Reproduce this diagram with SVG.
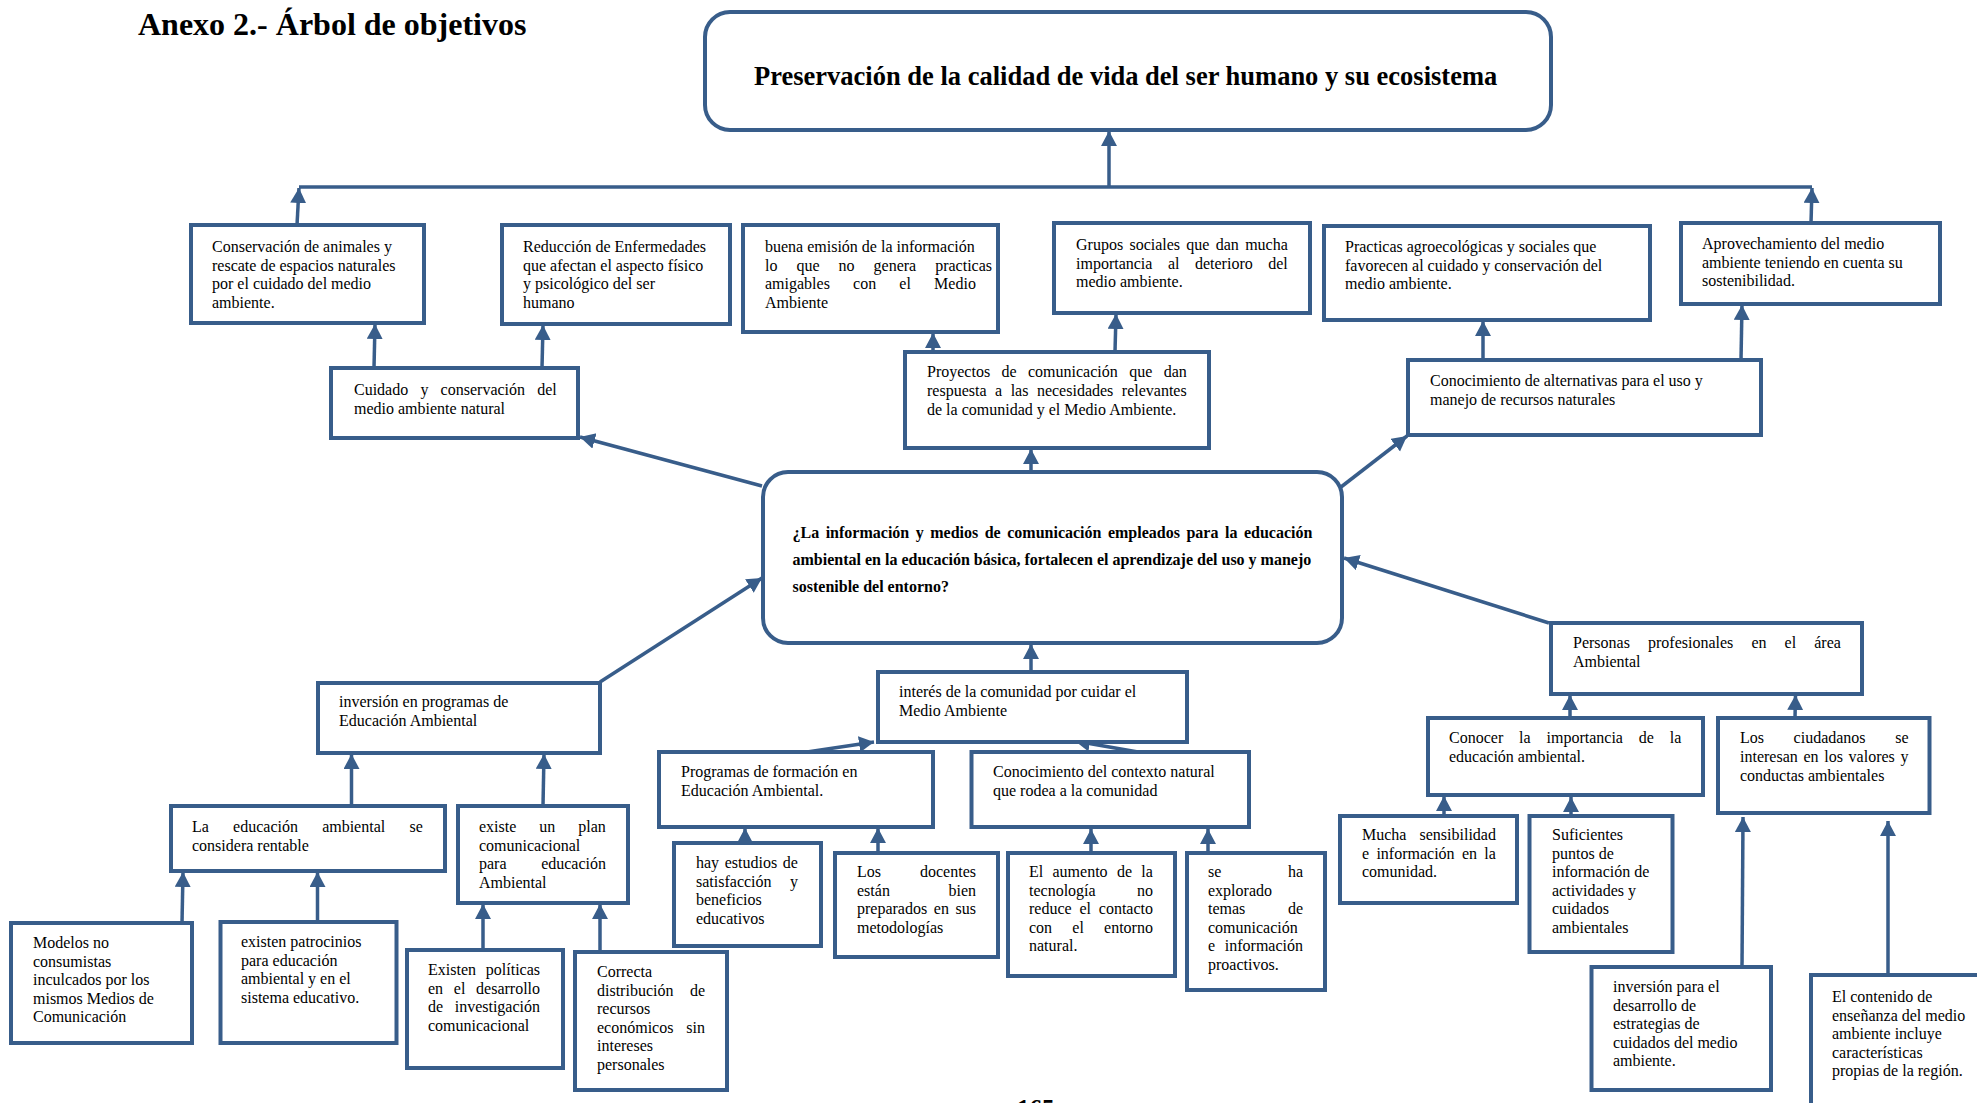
<svg xmlns="http://www.w3.org/2000/svg" width="1977" height="1103" viewBox="0 0 1977 1103">
<style>
.b{fill:#fff;stroke:#385D8A;stroke-width:4}
.c{stroke:#385D8A;stroke-width:3.5;fill:none;marker-end:url(#ah)}
.l{stroke:#385D8A;stroke-width:3.5;fill:none}
.t{font-family:"Liberation Serif","Times New Roman",serif;font-size:16px;fill:#000}
.tb{font-family:"Liberation Serif","Times New Roman",serif;font-size:16px;font-weight:bold;fill:#000}
</style>
<defs>
<marker id="ah" markerUnits="userSpaceOnUse" markerWidth="18" markerHeight="18" refX="15" refY="8" orient="auto"><path d="M0,0 L15,8 L0,16 z" fill="#385D8A"/></marker>
</defs>
<rect width="1977" height="1103" fill="#fff"/>
<text x="138" y="35" style="font-family:'Liberation Serif','Times New Roman',serif;font-size:32px;font-weight:bold">Anexo 2.- Árbol de objetivos</text>
<text x="1017" y="1117" style="font-family:'Liberation Serif','Times New Roman',serif;font-size:25px;font-weight:bold">165</text>

<g id="connectors">
<line class="l" x1="299" y1="187" x2="1812" y2="187"/>
<line class="c" x1="297" y1="225" x2="299" y2="188"/>
<line class="c" x1="1109" y1="187" x2="1109" y2="131"/>
<line class="c" x1="1811" y1="223" x2="1812" y2="188"/>
<line class="c" x1="374" y1="368" x2="375" y2="324"/>
<line class="c" x1="542" y1="368" x2="543" y2="325"/>
<line class="c" x1="933" y1="352" x2="933" y2="333"/>
<line class="c" x1="1115" y1="352" x2="1116" y2="314"/>
<line class="c" x1="1031" y1="472" x2="1031" y2="449"/>
<line class="c" x1="762" y1="486" x2="580" y2="437"/>
<line class="c" x1="1341" y1="487" x2="1407" y2="436"/>
<line class="c" x1="1483" y1="360" x2="1483" y2="321"/>
<line class="c" x1="1741" y1="360" x2="1742" y2="305"/>
<line class="c" x1="600" y1="682" x2="762" y2="578"/>
<line class="c" x1="1549" y1="623" x2="1344" y2="558"/>
<line class="c" x1="1031" y1="672" x2="1031" y2="644"/>
<line class="c" x1="807" y1="752" x2="874" y2="742"/>
<line class="c" x1="1138" y1="752" x2="1075" y2="741"/>
<line class="c" x1="351.5" y1="806" x2="351.5" y2="754"/>
<line class="c" x1="543" y1="806" x2="544" y2="754"/>
<line class="c" x1="182" y1="923" x2="183" y2="872"/>
<line class="c" x1="317.5" y1="922" x2="317.5" y2="872"/>
<line class="c" x1="483" y1="950" x2="483" y2="904"/>
<line class="c" x1="600" y1="952" x2="600" y2="904"/>
<line class="c" x1="745" y1="843" x2="745" y2="828"/>
<line class="c" x1="878" y1="853" x2="878" y2="828"/>
<line class="c" x1="1091" y1="853" x2="1091" y2="829"/>
<line class="c" x1="1208" y1="853" x2="1208" y2="829"/>
<line class="c" x1="1570" y1="718" x2="1570" y2="695"/>
<line class="c" x1="1795" y1="718" x2="1795.5" y2="695"/>
<line class="c" x1="1444" y1="816" x2="1444" y2="796"/>
<line class="c" x1="1571" y1="818" x2="1571" y2="797"/>
<line class="c" x1="1742" y1="967" x2="1743" y2="817"/>
<line class="c" x1="1888" y1="975" x2="1888" y2="821"/>
</g>

<g id="n-top"><rect class="b" x="705" y="12" width="846" height="118" rx="25"/>
<text x="754" y="85" style="font-family:'Liberation Serif','Times New Roman',serif;font-size:26.5px;font-weight:bold">Preservación de la calidad de vida del ser humano y su ecosistema</text></g>

<g id="n-conservacion"><rect class="b" x="191" y="225" width="233" height="98"/>
<text class="t"><tspan x="212" y="252">Conservación de animales y</tspan><tspan x="212" y="270.5">rescate de espacios naturales</tspan><tspan x="212" y="289">por el cuidado del medio</tspan><tspan x="212" y="307.5">ambiente.</tspan></text></g>

<g id="n-reduccion"><rect class="b" x="502" y="225" width="228" height="99"/>
<text class="t"><tspan x="523" y="252">Reducción de Enfermedades</tspan><tspan x="523" y="270.5">que afectan el aspecto físico</tspan><tspan x="523" y="289">y psicológico del ser</tspan><tspan x="523" y="307.5">humano</tspan></text></g>

<g id="n-buena"><rect class="b" x="743" y="225" width="255" height="107"/>
<text class="t"><tspan x="765" y="252">buena emisión de la información</tspan><tspan x="765" y="270.5" style="word-spacing:15px">lo que no genera practicas</tspan><tspan x="765" y="289" style="word-spacing:19.2px">amigables con el Medio</tspan><tspan x="765" y="307.5">Ambiente</tspan></text></g>

<g id="n-grupos"><rect class="b" x="1054" y="223" width="256" height="90"/>
<text class="t"><tspan x="1076" y="250" style="word-spacing:2.3px">Grupos sociales que dan mucha</tspan><tspan x="1076" y="268.5" style="word-spacing:11.5px">importancia al deterioro del</tspan><tspan x="1076" y="287">medio ambiente.</tspan></text></g>

<g id="n-practicas"><rect class="b" x="1324" y="226" width="326" height="94"/>
<text class="t"><tspan x="1345" y="252">Practicas agroecológicas y sociales que</tspan><tspan x="1345" y="270.5">favorecen al cuidado y conservación del</tspan><tspan x="1345" y="289">medio ambiente.</tspan></text></g>

<g id="n-aprovechamiento"><rect class="b" x="1681" y="223" width="259" height="81"/>
<text class="t"><tspan x="1702" y="249">Aprovechamiento del medio</tspan><tspan x="1702" y="267.5">ambiente teniendo en cuenta su</tspan><tspan x="1702" y="286">sostenibilidad.</tspan></text></g>

<g id="n-cuidado"><rect class="b" x="331" y="368" width="247" height="70"/>
<text class="t"><tspan x="354" y="395" style="word-spacing:8.2px">Cuidado y conservación del</tspan><tspan x="354" y="413.5">medio ambiente natural</tspan></text></g>

<g id="n-proyectos"><rect class="b" x="905" y="352" width="304" height="96"/>
<text class="t"><tspan x="927" y="377" style="word-spacing:7.4px">Proyectos de comunicación que dan</tspan><tspan x="927" y="396" style="word-spacing:4.5px">respuesta a las necesidades relevantes</tspan><tspan x="927" y="414.5">de la comunidad y el Medio Ambiente.</tspan></text></g>

<g id="n-alternativas"><rect class="b" x="1408" y="360" width="353" height="75"/>
<text class="t"><tspan x="1430" y="386">Conocimiento de alternativas para el uso y</tspan><tspan x="1430" y="405">manejo de recursos naturales</tspan></text></g>

<g id="n-central"><rect class="b" x="763" y="472" width="579" height="171" rx="25"/>
<text class="tb"><tspan x="792.5" y="538" style="word-spacing:2.5px">¿La información y medios de comunicación empleados para la educación</tspan><tspan x="792.5" y="565">ambiental en la educación básica, fortalecen el aprendizaje del uso y manejo</tspan><tspan x="792.5" y="592">sostenible del entorno?</tspan></text></g>

<g id="n-personas"><rect class="b" x="1551" y="623" width="311" height="71"/>
<text class="t"><tspan x="1573" y="648" style="word-spacing:14.1px">Personas profesionales en el área</tspan><tspan x="1573" y="667">Ambiental</tspan></text></g>

<g id="n-interes"><rect class="b" x="878" y="672" width="309" height="70"/>
<text class="t"><tspan x="899" y="697">interés de la comunidad por cuidar el</tspan><tspan x="899" y="715.5">Medio Ambiente</tspan></text></g>

<g id="n-inversion-programas"><rect class="b" x="318" y="683" width="282" height="70"/>
<text class="t"><tspan x="339" y="707">inversión en programas de</tspan><tspan x="339" y="725.5">Educación Ambiental</tspan></text></g>

<g id="n-programas"><rect class="b" x="659" y="752" width="274" height="75"/>
<text class="t"><tspan x="681" y="777">Programas de formación en</tspan><tspan x="681" y="795.5">Educación Ambiental.</tspan></text></g>

<g id="n-contexto"><rect class="b" x="971.5" y="752" width="277.5" height="75"/>
<text class="t"><tspan x="993" y="777">Conocimiento del contexto natural</tspan><tspan x="993" y="795.5">que rodea a la comunidad</tspan></text></g>

<g id="n-rentable"><rect class="b" x="171" y="806" width="274" height="65"/>
<text class="t"><tspan x="192" y="832" style="word-spacing:20.2px">La educación ambiental se</tspan><tspan x="192" y="851">considera rentable</tspan></text></g>

<g id="n-plan"><rect class="b" x="458" y="806" width="170" height="97"/>
<text class="t"><tspan x="479" y="832" style="word-spacing:19px">existe un plan</tspan><tspan x="479" y="850.5">comunicacional</tspan><tspan x="479" y="869" style="word-spacing:30.6px">para educación</tspan><tspan x="479" y="887.5">Ambiental</tspan></text></g>

<g id="n-modelos"><rect class="b" x="11" y="923" width="181" height="120"/>
<text class="t"><tspan x="33" y="948">Modelos no</tspan><tspan x="33" y="966.5">consumistas</tspan><tspan x="33" y="985">inculcados por los</tspan><tspan x="33" y="1003.5">mismos Medios de</tspan><tspan x="33" y="1022">Comunicación</tspan></text></g>

<g id="n-patrocinios"><rect class="b" x="220.5" y="922" width="176" height="121"/>
<text class="t"><tspan x="241" y="947">existen patrocinios</tspan><tspan x="241" y="965.5">para educación</tspan><tspan x="241" y="984">ambiental y en el</tspan><tspan x="241" y="1002.5">sistema educativo.</tspan></text></g>

<g id="n-politicas"><rect class="b" x="407" y="950" width="156" height="118"/>
<text class="t"><tspan x="428" y="975" style="word-spacing:5.8px">Existen políticas</tspan><tspan x="428" y="993.5" style="word-spacing:6.7px">en el desarrollo</tspan><tspan x="428" y="1012" style="word-spacing:7.6px">de investigación</tspan><tspan x="428" y="1030.5">comunicacional</tspan></text></g>

<g id="n-correcta"><rect class="b" x="575" y="952" width="152" height="138"/>
<text class="t"><tspan x="597" y="977">Correcta</tspan><tspan x="597" y="995.5" style="word-spacing:12.5px">distribución de</tspan><tspan x="597" y="1014">recursos</tspan><tspan x="597" y="1032.5" style="word-spacing:8.9px">económicos sin</tspan><tspan x="597" y="1051">intereses</tspan><tspan x="597" y="1069.5">personales</tspan></text></g>

<g id="n-estudios"><rect class="b" x="674" y="843" width="147" height="103"/>
<text class="t"><tspan x="696" y="868" style="word-spacing:1.6px">hay estudios de</tspan><tspan x="696" y="886.5" style="word-spacing:14.5px">satisfacción y</tspan><tspan x="696" y="905">beneficios</tspan><tspan x="696" y="923.5">educativos</tspan></text></g>

<g id="n-docentes"><rect class="b" x="835" y="853" width="163" height="104"/>
<text class="t"><tspan x="857" y="877" style="word-spacing:35px">Los docentes</tspan><tspan x="857" y="895.5" style="word-spacing:54.6px">están bien</tspan><tspan x="857" y="914" style="word-spacing:2.6px">preparados en sus</tspan><tspan x="857" y="932.5">metodologías</tspan></text></g>

<g id="n-aumento"><rect class="b" x="1008" y="853" width="167" height="123"/>
<text class="t"><tspan x="1029" y="877" style="word-spacing:5.3px">El aumento de la</tspan><tspan x="1029" y="895.5" style="word-spacing:37.3px">tecnología no</tspan><tspan x="1029" y="914" style="word-spacing:3.8px">reduce el contacto</tspan><tspan x="1029" y="932.5" style="word-spacing:16.2px">con el entorno</tspan><tspan x="1029" y="951">natural.</tspan></text></g>

<g id="n-explorado"><rect class="b" x="1187" y="853" width="138" height="137"/>
<text class="t"><tspan x="1208" y="877" style="word-spacing:62.6px">se ha</tspan><tspan x="1208" y="895.5">explorado</tspan><tspan x="1208" y="914" style="word-spacing:38.6px">temas de</tspan><tspan x="1208" y="932.5">comunicación</tspan><tspan x="1208" y="951" style="word-spacing:5.7px">e información</tspan><tspan x="1208" y="969.5">proactivos.</tspan></text></g>

<g id="n-conocer"><rect class="b" x="1428" y="718" width="275" height="77"/>
<text class="t"><tspan x="1449" y="743" style="word-spacing:11.9px">Conocer la importancia de la</tspan><tspan x="1449" y="762">educación ambiental.</tspan></text></g>

<g id="n-ciudadanos"><rect class="b" x="1718" y="718" width="211.5" height="95"/>
<text class="t"><tspan x="1740" y="743" style="word-spacing:25.6px">Los ciudadanos se</tspan><tspan x="1740" y="762" style="word-spacing:1.7px">interesan en los valores y</tspan><tspan x="1740" y="781">conductas ambientales</tspan></text></g>

<g id="n-mucha"><rect class="b" x="1340" y="816" width="177" height="87"/>
<text class="t"><tspan x="1362" y="840" style="word-spacing:9.1px">Mucha sensibilidad</tspan><tspan x="1362" y="858.5" style="word-spacing:3.3px">e información en la</tspan><tspan x="1362" y="877">comunidad.</tspan></text></g>

<g id="n-suficientes"><rect class="b" x="1529.5" y="816" width="143" height="136"/>
<text class="t"><tspan x="1552" y="840">Suficientes</tspan><tspan x="1552" y="858.5">puntos de</tspan><tspan x="1552" y="877">información de</tspan><tspan x="1552" y="895.5">actividades y</tspan><tspan x="1552" y="914">cuidados</tspan><tspan x="1552" y="932.5">ambientales</tspan></text></g>

<g id="n-inversion-estrategias"><rect class="b" x="1591.5" y="967" width="179.5" height="123"/>
<text class="t"><tspan x="1613" y="992">inversión para el</tspan><tspan x="1613" y="1010.5">desarrollo de</tspan><tspan x="1613" y="1029">estrategias de</tspan><tspan x="1613" y="1047.5">cuidados del medio</tspan><tspan x="1613" y="1066">ambiente.</tspan></text></g>

<g id="n-contenido"><rect class="b" x="1811" y="975" width="200" height="150"/>
<text class="t"><tspan x="1832" y="1002">El contenido de</tspan><tspan x="1832" y="1020.5">enseñanza del medio</tspan><tspan x="1832" y="1039">ambiente incluye</tspan><tspan x="1832" y="1057.5">características</tspan><tspan x="1832" y="1076">propias de la región.</tspan></text></g>
</svg>
